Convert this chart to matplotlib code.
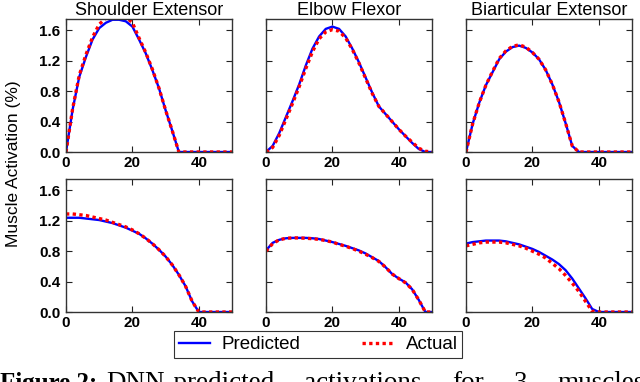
import matplotlib
matplotlib.use("Agg")
import matplotlib.pyplot as plt
from matplotlib.lines import Line2D

# time steps (every 2)
steps = [0, 2, 4, 6, 8, 10, 12, 14, 16, 18, 20, 22, 24, 26, 28, 30, 32, 34, 36, 38, 40, 42, 44, 46, 48, 50]

titles = ["Shoulder Extensor", "Elbow Flexor", "Biarticular Extensor"]

# Top row
shoulder1_pred = [0.00, 0.56, 0.99, 1.25, 1.48, 1.63, 1.70, 1.74, 1.74, 1.72, 1.65, 1.48, 1.30, 1.08, 0.84, 0.55, 0.28, 0.00, 0, 0, 0, 0, 0, 0, 0, 0]
shoulder1_act  = [0.00, 0.57, 1.01, 1.28, 1.51, 1.68, 1.76, 1.80, 1.80, 1.78, 1.70, 1.50, 1.31, 1.09, 0.84, 0.55, 0.28, 0.00, 0, 0, 0, 0, 0, 0, 0, 0]
elbow1_pred = [0.00, 0.08, 0.25, 0.46, 0.67, 0.89, 1.14, 1.36, 1.52, 1.62, 1.65, 1.62, 1.52, 1.36, 1.18, 0.98, 0.78, 0.60, 0.50, 0.40, 0.30, 0.21, 0.12, 0.04, 0.00, 0.00]
elbow1_act  = [0.00, 0.06, 0.22, 0.43, 0.64, 0.86, 1.10, 1.32, 1.49, 1.58, 1.61, 1.59, 1.50, 1.35, 1.17, 0.97, 0.77, 0.60, 0.50, 0.40, 0.30, 0.21, 0.13, 0.05, 0.01, 0.00]
biart1_pred = [0.00, 0.37, 0.65, 0.88, 1.05, 1.22, 1.32, 1.38, 1.40, 1.37, 1.31, 1.22, 1.08, 0.89, 0.66, 0.38, 0.08, 0.00, 0, 0, 0, 0, 0, 0, 0, 0]
biart1_act  = [0.00, 0.37, 0.65, 0.88, 1.06, 1.23, 1.33, 1.39, 1.41, 1.38, 1.31, 1.22, 1.08, 0.89, 0.66, 0.38, 0.08, 0.00, 0, 0, 0, 0, 0, 0, 0, 0]

# Bottom row
shoulder2_pred = [1.24, 1.24, 1.24, 1.23, 1.22, 1.21, 1.19, 1.17, 1.14, 1.11, 1.07, 1.03, 0.97, 0.90, 0.82, 0.73, 0.62, 0.49, 0.34, 0.14, 0.00, 0, 0, 0, 0, 0]
shoulder2_act  = [1.29, 1.29, 1.28, 1.27, 1.25, 1.23, 1.21, 1.18, 1.15, 1.12, 1.08, 1.03, 0.97, 0.90, 0.82, 0.73, 0.62, 0.49, 0.34, 0.14, 0.00, 0, 0, 0, 0, 0]
elbow2_pred = [0.81, 0.91, 0.95, 0.97, 0.975, 0.975, 0.975, 0.97, 0.96, 0.94, 0.92, 0.895, 0.87, 0.84, 0.81, 0.77, 0.72, 0.67, 0.59, 0.50, 0.44, 0.39, 0.30, 0.16, 0.00, 0.00]
elbow2_act  = [0.80, 0.90, 0.95, 0.97, 0.975, 0.975, 0.97, 0.965, 0.955, 0.94, 0.92, 0.89, 0.865, 0.835, 0.80, 0.76, 0.715, 0.665, 0.59, 0.50, 0.44, 0.385, 0.30, 0.16, 0.00, 0.00]
biart2_pred = [0.90, 0.92, 0.93, 0.94, 0.94, 0.94, 0.93, 0.91, 0.89, 0.86, 0.83, 0.79, 0.74, 0.69, 0.63, 0.55, 0.44, 0.31, 0.18, 0.04, 0.00, 0, 0, 0, 0, 0]
biart2_act  = [0.87, 0.89, 0.91, 0.92, 0.92, 0.92, 0.91, 0.89, 0.87, 0.84, 0.80, 0.76, 0.71, 0.64, 0.57, 0.48, 0.38, 0.27, 0.14, 0.01, 0.00, 0, 0, 0, 0, 0]

preds = [[shoulder1_pred, elbow1_pred, biart1_pred], [shoulder2_pred, elbow2_pred, biart2_pred]]
acts = [[shoulder1_act, elbow1_act, biart1_act], [shoulder2_act, elbow2_act, biart2_act]]

xticks = [0, 20, 40]
yticks = [0.0, 0.4, 0.8, 1.2, 1.6]
ytick_labels = ["0.0", "0.4", "0.8", "1.2", "1.6"]

caption_words = ["DNN-predicted", "activations", "for", "3", "muscles"]

fig = plt.figure(figsize=(6.4, 3.82), dpi=100)

W, H = 640.0, 382.0
lefts = [66, 266, 466]
tops = [19, 179]
aw, ah = 166, 133

for r in range(2):
    for c in range(3):
        ax = fig.add_axes([lefts[c] / W, 1 - (tops[r] + ah) / H, aw / W, ah / H])
        ax.plot(steps, preds[r][c], color=(0, 0, 1), lw=1.7, solid_capstyle="butt")
        ax.plot(steps, acts[r][c], color=(1, 0, 0), lw=2.4, linestyle=(0, (1, 1)))
        ax.set_xlim(0, 50)
        ax.set_ylim(0, 1.75)
        ax.set_xticks(xticks)
        ax.set_xticklabels([str(t) for t in xticks], fontfamily="Liberation Sans", fontweight="bold", fontsize=11)
        ax.set_yticks(yticks)
        if c == 0:
            ax.set_yticklabels(ytick_labels, fontfamily="Liberation Sans", fontweight="bold", fontsize=11)
        else:
            ax.set_yticklabels([])
        ax.tick_params(direction="in", top=True, right=True, length=4, width=0.8, colors="#222222", labelcolor="black")
        ax.tick_params(axis="x", pad=3)
        ax.tick_params(axis="y", pad=4)
        for s in ax.spines.values():
            s.set_color("#333333")
            s.set_linewidth(1.0)
        if r == 0:
            ax.set_title(titles[c], fontfamily="Liberation Sans", fontsize=13, pad=3)

fig.text(14 / W, 1 - 164 / H, "Muscle Activation (%)", rotation=90, ha="center", va="center",
         fontfamily="Liberation Sans", fontsize=12.5)

handles = [Line2D([], [], color=(0, 0, 1), lw=1.7),
           Line2D([], [], color=(1, 0, 0), lw=2.4, linestyle=(0, (1, 1)))]
leg = fig.legend(handles, ["Predicted", "Actual"], loc="center", bbox_to_anchor=(318 / W, 1 - 344.5 / H),
                 ncol=2, frameon=True, fancybox=False, shadow=False, edgecolor="black",
                 prop={"family": "Liberation Sans", "size": 13.5}, handlelength=1.7, columnspacing=3.3,
                 borderpad=0.25, handletextpad=0.6, borderaxespad=0)
leg.get_frame().set_linewidth(0.8)

# Caption (justified line, cut off at the bottom edge as in the source)
base_y = 1 - 390 / H
renderer = fig.canvas.get_renderer()
t0 = fig.text(0 / W, base_y, "Figure 2:", ha="left", va="baseline", fontfamily="Liberation Serif",
              fontweight="bold", fontsize=18)
word_texts = []
for wd in caption_words:
    word_texts.append(fig.text(0, base_y, wd, ha="left", va="baseline",
                               fontfamily="Liberation Serif", fontsize=19.5))
widths = [t.get_window_extent(renderer).width for t in word_texts]
start_px, end_px = 106.0, 645.0
gap = (end_px - start_px - sum(widths)) / (len(widths) - 1)
xpos = start_px
for t, w in zip(word_texts, widths):
    t.set_x(xpos / W)
    xpos += w + gap

fig.savefig("out.png", dpi=100)
